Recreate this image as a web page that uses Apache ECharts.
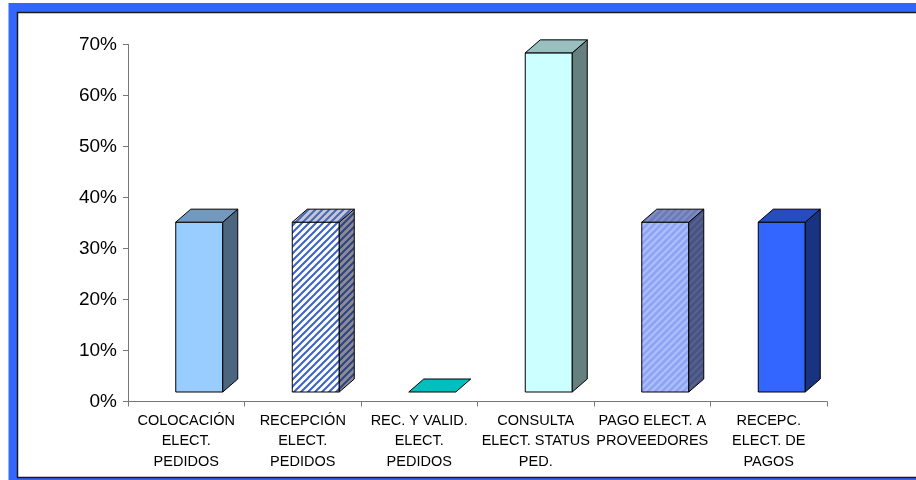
<!DOCTYPE html>
<html>
<head>
<meta charset="utf-8">
<script src="https://cdn.jsdelivr.net/npm/echarts@6/dist/echarts.min.js"></script>
<style>
html,body{margin:0;padding:0;background:#fff;}
#chart{width:916px;height:480px;}
</style>
</head>
<body>
<div id="chart"></div>
<script>
const categories = [
  'COLOCACIÓN\nELECT.\nPEDIDOS',
  'RECEPCIÓN\nELECT.\nPEDIDOS',
  'REC. Y VALID.\nELECT.\nPEDIDOS',
  'CONSULTA\nELECT. STATUS\nPED.',
  'PAGO ELECT. A\nPROVEEDORES',
  'RECEPC.\nELECT. DE\nPAGOS'
];
const values = [33.3, 33.3, 0, 66.5, 33.3, 33.3];
const yTicks = [0, 10, 20, 30, 40, 50, 60, 70];

function stripes(bg, fg, size, w) {
  const c = document.createElement('canvas');
  c.width = size; c.height = size;
  const g = c.getContext('2d');
  g.fillStyle = bg; g.fillRect(0, 0, size, size);
  g.strokeStyle = fg; g.lineWidth = w; g.lineCap = 'square';
  g.beginPath();
  g.moveTo(0, size); g.lineTo(size, 0);
  g.moveTo(-size / 2, size / 2); g.lineTo(size / 2, -size / 2);
  g.moveTo(size / 2, size * 1.5); g.lineTo(size * 1.5, size / 2);
  g.stroke();
  return { type: 'pattern', image: c, repeat: 'repeat' };
}

const faceStyles = [
  { front: '#99CCFF', top: '#7399BF', side: '#4C6680' },
  { front: stripes('#FFFFFF', '#3A62C8', 7, 2), top: stripes('#C4C8D4', '#4A66B8', 7, 2), side: stripes('#8C8C96', '#2E4282', 7, 2) },
  { front: '#00FFFF', top: '#00BFBF', side: '#008080' },
  { front: '#CCFFFF', top: '#99BFBF', side: '#668080' },
  { front: stripes('#94A2F6', '#A8C2FF', 7, 2.2), top: stripes('#6E7AB6', '#8090C4', 7, 2.2), side: stripes('#485285', '#56628E', 7, 2.2) },
  { front: '#3366FF', top: '#264CBF', side: '#1A3380' }
];

const chart = echarts.init(document.getElementById('chart'), null, { renderer: 'canvas' });

function renderItem(params, api) {
  const idx = api.value(0);
  const v = api.value(1);
  const top = api.coord([idx, v]);
  const base = api.coord([idx, 0]);
  const bw = 47, dx = 15, dy = 13, lift = 9.5, shift = 13;
  const x0 = base[0] - bw / 2 + shift;
  const x1 = x0 + bw;
  const yB = base[1] - lift;
  const yT = top[1] - lift;
  const st = faceStyles[idx];
  const children = [];
  const stroke = { stroke: '#000', lineWidth: 1, lineJoin: 'round' };
  if (yB - yT > 0.5) {
    children.push({ type: 'polygon', shape: { points: [[x0, yT], [x1, yT], [x1, yB], [x0, yB]] }, style: Object.assign({ fill: st.front }, stroke) });
    children.push({ type: 'polygon', shape: { points: [[x1, yT], [x1 + dx, yT - dy], [x1 + dx, yB - dy], [x1, yB]] }, style: Object.assign({ fill: st.side }, stroke) });
  }
  children.push({ type: 'polygon', shape: { points: [[x0, yT], [x1, yT], [x1 + dx, yT - dy], [x0 + dx, yT - dy]] }, style: Object.assign({ fill: st.top }, stroke) });
  return { type: 'group', children };
}

chart.setOption({
  animation: false,
  backgroundColor: '#fff',
  graphic: [
    { type: 'rect', shape: { x: 13, y: 7.5, width: 1000, height: 475 }, style: { fill: 'none', stroke: '#3366FF', lineWidth: 9 }, z: 100 },
    { type: 'rect', shape: { x: 17.5, y: 12.5, width: 1000, height: 465 }, style: { fill: 'none', stroke: '#1a1a1a', lineWidth: 1.5 }, z: 101 }
  ],
  grid: { left: 128, right: 89, top: 44.5, bottom: 78.5 },
  xAxis: {
    type: 'category',
    data: categories,
    boundaryGap: true,
    axisLine: { lineStyle: { color: '#777', width: 1 } },
    axisTick: { show: true, length: 5, alignWithLabel: false, lineStyle: { color: '#777' } },
    axisLabel: { interval: 0, margin: 9, color: '#000', fontFamily: 'Liberation Sans', fontSize: 14.5, lineHeight: 20.5, align: 'center' },
    splitLine: { show: false }
  },
  yAxis: {
    type: 'value',
    min: yTicks[0],
    max: yTicks[yTicks.length - 1],
    interval: 10,
    axisLine: { show: true, lineStyle: { color: '#777', width: 1 } },
    axisTick: { show: true, length: 5, lineStyle: { color: '#777' } },
    axisLabel: { formatter: '{value}%', margin: 11, color: '#000', fontFamily: 'Liberation Sans', fontSize: 19 },
    splitLine: { show: false }
  },
  series: [{
    type: 'custom',
    renderItem: renderItem,
    encode: { x: 0, y: 1 },
    data: categories.map((c, i) => [i, values[i]]),
    clip: false
  }]
});
</script>
</body>
</html>
